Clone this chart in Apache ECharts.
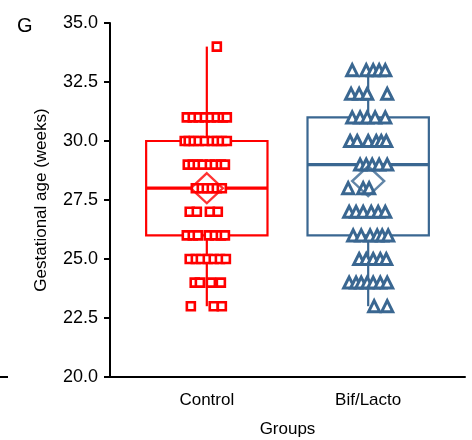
<!DOCTYPE html>
<html>
<head>
<meta charset="utf-8">
<script src="https://cdn.jsdelivr.net/npm/echarts@6/dist/echarts.min.js"></script>
<style>html,body{margin:0;padding:0;background:#fff}#c{width:472px;height:440px}</style>
</head>
<body>
<div id="c"></div>
<script>
// ---- data ----
const categories = ['Control', 'Bif/Lacto'];
const colors = ['#ff0000', '#3a6791'];
const yTicks = [20, 22.5, 25, 27.5, 30, 32.5, 35];
// box stats: [low whisker, Q1, median, Q3, high whisker]
const controlBox = [23, 26, 28, 30, 34];
const bifBox = [23, 26, 29, 31, 33];
const means = [28.0, 28.3];
// individual points (weeks) and their horizontal jitter (category units)
const controlValues = [34,
  31,31,31,31,31,31,31,31,
  30,30,30,30,30,30,30,30,30,
  29,29,29,29,29,29,29,29,
  28,28,28,28,28,28,
  27,27,27,27,
  26,26,26,26,26,26,26,
  25,25,25,25,25,25,25,
  24,24,24,24,
  23,23,23];
const controlJitter = [0.062,
  -0.124,-0.087,-0.050,-0.012,0.025,0.062,0.099,0.124,
  -0.137,-0.112,-0.081,-0.050,-0.012,0.031,0.062,0.093,0.124,
  -0.118,-0.087,-0.056,-0.025,0.019,0.050,0.087,0.112,
  -0.068,-0.031,0,0.031,0.062,0.093,
  -0.106,-0.062,0.019,0.068,
  -0.124,-0.087,-0.056,0.012,0.050,0.087,0.112,
  -0.106,-0.068,-0.037,0.006,0.043,0.081,0.118,
  -0.075,-0.043,0.025,0.087,
  -0.099,0.043,0.093];
const bifValues = [33,33,33,33,33,
  32,32,32,32,
  31,31,31,31,31,
  30,30,30,30,30,30,
  29,29,29,29,29,
  28,28,28,
  27,27,27,27,27,27,
  26,26,26,26,26,26,
  25,25,25,25,25,
  24,24,24,24,24,24,24,
  23,23];
const bifJitter = [-0.099,-0.012,0.031,0.068,0.106,
  -0.106,-0.056,-0.006,0.118,
  -0.099,-0.050,-0.006,0.043,0.106,
  -0.112,-0.068,0,0.050,0.081,0.112,
  -0.050,-0.012,0.025,0.068,0.118,
  -0.124,-0.031,0.006,
  -0.118,-0.075,-0.031,0.019,0.062,0.106,
  -0.093,-0.043,0.012,0.056,0.087,0.124,
  -0.056,-0.012,0.031,0.075,0.112,
  -0.118,-0.075,-0.043,-0.006,0.031,0.075,0.118,
  0.037,0.118];

// ---- chart ----
const FONT = 'Liberation Sans, Arial, sans-serif';
const boxes = [[1].concat(controlBox), [2].concat(bifBox)];
const chart = echarts.init(document.getElementById('c'), null, {renderer: 'canvas'});

function boxRender(params, api) {
  const x = api.value(0);
  const lo = api.value(1), q1 = api.value(2), med = api.value(3), q3 = api.value(4), hi = api.value(5);
  const c = colors[params.dataIndex];
  const half = 0.376;
  const pL = api.coord([x - half, q1]);
  const pR = api.coord([x + half, q3]);
  const pc = api.coord([x, lo]);
  const pq1 = api.coord([x, q1]);
  const pq3 = api.coord([x, q3]);
  const ph = api.coord([x, hi]);
  const pm = api.coord([x, med]);
  const st = {stroke: c, lineWidth: 2.2, fill: null};
  return {type: 'group', children: [
    {type: 'line', shape: {x1: pc[0], y1: pc[1], x2: pq1[0], y2: pq1[1]}, style: st},
    {type: 'line', shape: {x1: pq3[0], y1: pq3[1], x2: ph[0], y2: ph[1]}, style: st},
    {type: 'rect', shape: {x: pL[0], y: pR[1], width: pR[0] - pL[0], height: pL[1] - pR[1]}, style: st},
    {type: 'line', shape: {x1: pL[0], y1: pm[1], x2: pR[0], y2: pm[1]}, style: {stroke: c, lineWidth: 3.2}}
  ]};
}

const option = {
  animation: false,
  backgroundColor: '#fff',
  textStyle: {fontFamily: FONT},
  title: {text: 'G', left: 12, top: 11, textStyle: {fontFamily: FONT, fontSize: 20, fontWeight: 'normal', color: '#000'}},
  grid: {left: 110, right: 7, top: 23, bottom: 63, containLabel: false, outerBoundsMode: 'none'},
  xAxis: {
    type: 'value', min: 0.4, max: 2.6,
    name: 'Groups', nameLocation: 'middle', nameGap: 44,
    nameTextStyle: {fontFamily: FONT, fontSize: 17, color: '#000'},
    axisLine: {show: true, onZero: false, lineStyle: {color: '#000', width: 2}},
    axisTick: {show: false},
    splitLine: {show: false},
    axisLabel: {
      customValues: [1, 2],
      formatter: v => categories[Math.round(v) - 1] || '',
      fontFamily: FONT, fontSize: 17, color: '#000', margin: 15
    }
  },
  yAxis: {
    type: 'value', min: yTicks[0], max: yTicks[yTicks.length - 1], interval: 2.5,
    name: 'Gestational age (weeks)', nameLocation: 'middle', nameGap: 60,
    nameTextStyle: {fontFamily: FONT, fontSize: 17, color: '#000'},
    axisLine: {show: true, lineStyle: {color: '#000', width: 2}},
    axisTick: {show: true, inside: false, length: 6, lineStyle: {color: '#000', width: 2}},
    splitLine: {show: false},
    axisLabel: {formatter: v => v.toFixed(1), fontFamily: FONT, fontSize: 18, color: '#000', margin: 12}
  },
  graphic: [{type: 'line', shape: {x1: 0, y1: 377, x2: 8, y2: 377}, style: {stroke: '#000', lineWidth: 2}}],
  series: [
    {type: 'custom', renderItem: boxRender, data: boxes, z: 2, clip: false},
    {type: 'scatter', z: 3, symbol: 'rect', symbolSize: 8,
      itemStyle: {color: '#fff', borderColor: colors[0], borderWidth: 2.6, opacity: 1},
      data: controlValues.map((v, i) => [1 + controlJitter[i], v])},
    {type: 'scatter', z: 3, symbol: 'triangle', symbolSize: 11,
      itemStyle: {color: '#fff', borderColor: colors[1], borderWidth: 3, opacity: 1},
      data: bifValues.map((v, i) => [2 + bifJitter[i], v])},
    {type: 'scatter', z: 4, symbol: 'diamond', symbolSize: [32, 30],
      itemStyle: {color: 'rgba(0,0,0,0)', borderColor: colors[0], borderWidth: 2.4},
      data: [[1, means[0]]]},
    {type: 'scatter', z: 4, symbol: 'diamond', symbolSize: [32, 30],
      itemStyle: {color: 'rgba(0,0,0,0)', borderColor: colors[1], borderWidth: 2.4},
      data: [[2, means[1]]]}
  ]
};
chart.setOption(option);
</script>
</body>
</html>
